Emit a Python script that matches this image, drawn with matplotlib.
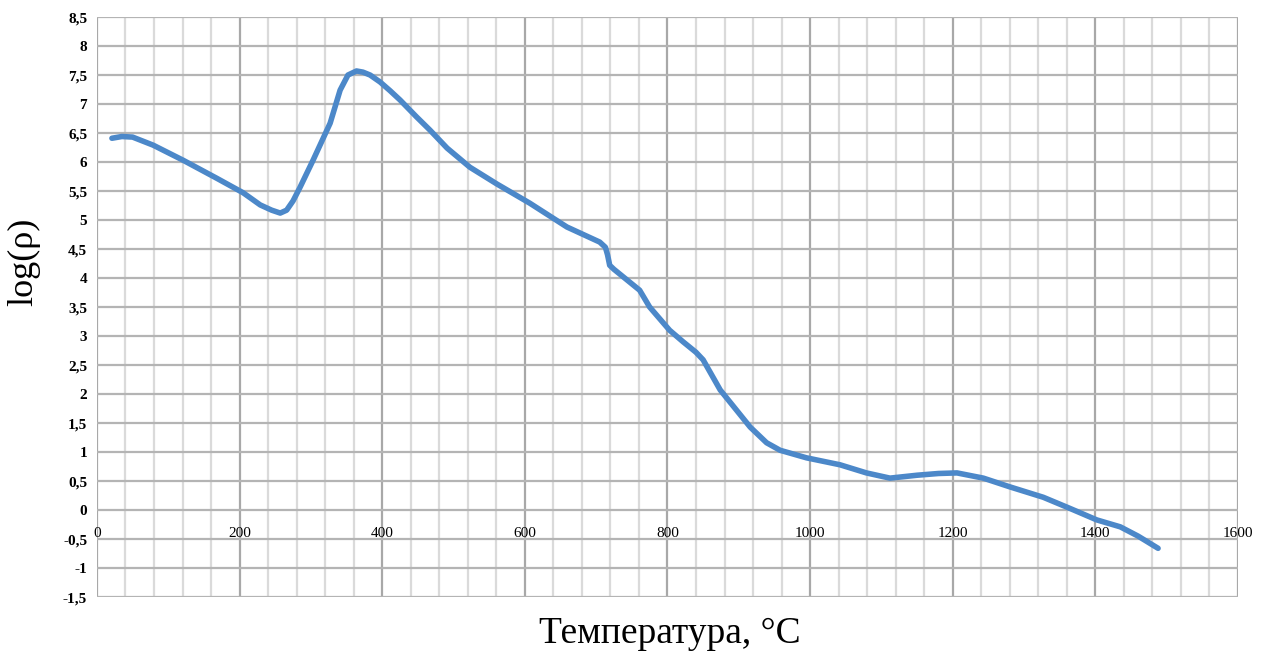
import matplotlib.pyplot as plt
import numpy as np
from matplotlib.ticker import FuncFormatter, MultipleLocator

# Values
TEMP_C = [21, 35, 50, 79, 121, 168, 205, 229, 245, 257, 266, 275, 285, 303, 327,
          341, 352, 364, 373, 383, 397, 411, 425, 448, 467, 491, 523, 561, 607,
          659, 705, 713, 716, 719, 725, 761, 775, 803, 822, 840, 850, 874, 916,
          939, 958, 995, 1042, 1079, 1112, 1150, 1180, 1206, 1243, 1280, 1327,
          1364, 1402, 1435, 1460, 1488]
LOG_RHO = [6.41, 6.44, 6.43, 6.29, 6.03, 5.72, 5.47, 5.26, 5.17, 5.12, 5.17,
           5.33, 5.57, 6.03, 6.67, 7.24, 7.50, 7.57, 7.55, 7.50, 7.38, 7.23,
           7.07, 6.78, 6.55, 6.24, 5.91, 5.62, 5.29, 4.88, 4.62, 4.53, 4.40,
           4.22, 4.15, 3.79, 3.50, 3.10, 2.90, 2.72, 2.59, 2.07, 1.43, 1.16,
           1.03, 0.90, 0.78, 0.64, 0.55, 0.60, 0.63, 0.64, 0.55, 0.40, 0.22,
           0.03, -0.17, -0.29, -0.45, -0.66]

Y_TICKS = np.arange(-1.5, 8.51, 0.5)

SERIF = ["Liberation Serif", "DejaVu Serif"]
LINE_COLOR = "#4C88C9"


def comma(v, _pos=None):
    return f"{v:g}".replace(".", ",")


fig = plt.figure(figsize=(12.64, 6.55), dpi=100)
fig.patch.set_facecolor("white")
ax = fig.add_axes([0.0767, 0.0885, 0.9027, 0.8855])

ax.set_xlim(0, 1600)
ax.set_ylim(-1.5, 8.5)

# minor vertical grid every 40, major every 200, horizontal every 0.5
ax.xaxis.set_major_locator(MultipleLocator(200))
ax.xaxis.set_minor_locator(MultipleLocator(40))
ax.set_yticks(Y_TICKS)
ax.grid(which="minor", axis="x", color="#dadada", linewidth=1.6)
ax.grid(which="major", axis="x", color="#a8a8a8", linewidth=1.6)
ax.grid(which="major", axis="y", color="#b4b4b4", linewidth=1.6)
ax.set_axisbelow(True)

for side in ("top", "right", "left"):
    ax.spines[side].set_visible(False)
# Excel style: category labels sit on the zero line
ax.spines["bottom"].set_position(("data", 0))
ax.spines["bottom"].set_visible(False)

ax.tick_params(axis="both", which="both", length=0)
ax.tick_params(axis="x", pad=12)
ax.tick_params(axis="y", pad=7)
ax.xaxis.set_major_formatter(FuncFormatter(lambda v, p: f"{v:.0f}"))
ax.yaxis.set_major_formatter(FuncFormatter(comma))
for lab in ax.get_xticklabels():
    lab.set_fontfamily(SERIF)
    lab.set_fontsize(11)
for lab in ax.get_yticklabels():
    lab.set_fontfamily(SERIF)
    lab.set_fontsize(11)
    lab.set_fontweight("bold")

ax.plot(TEMP_C, LOG_RHO, color=LINE_COLOR, linewidth=4.0,
        solid_capstyle="round", solid_joinstyle="round", zorder=3)

fig.text(0.530, 0.032, "Температура, °C", fontsize=27, family=SERIF,
         ha="center", va="center")
fig.text(0.019, 0.60, "log(ρ)", fontsize=26, family=SERIF, rotation=90,
         ha="center", va="center")

fig.savefig("out.png", dpi=100, facecolor="white")
